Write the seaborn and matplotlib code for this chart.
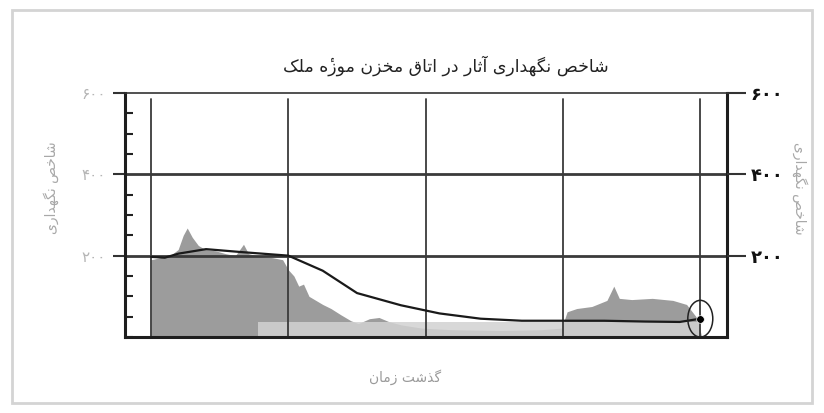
import numpy as np
import pandas as pd
import matplotlib
matplotlib.use("Agg")
import matplotlib.pyplot as plt
from matplotlib.path import Path
from matplotlib.patches import Rectangle
from matplotlib.ticker import MultipleLocator
import seaborn as sns

# --- Persian shaping (no bidi in matplotlib) ---
FORMS = {
    "ا": ("\ufe8d", "\ufe8e", None, None),
    "آ": ("\ufe81", "\ufe82", None, None),
    "ت": ("\ufe95", "\ufe96", "\ufe97", "\ufe98"),
    "ث": ("\ufe99", "\ufe9a", "\ufe9b", "\ufe9c"),
    "خ": ("\ufea5", "\ufea6", "\ufea7", "\ufea8"),
    "د": ("\ufea9", "\ufeaa", None, None),
    "ذ": ("\ufeab", "\ufeac", None, None),
    "ر": ("\ufead", "\ufeae", None, None),
    "ز": ("\ufeaf", "\ufeb0", None, None),
    "ش": ("\ufeb5", "\ufeb6", "\ufeb7", "\ufeb8"),
    "ص": ("\ufeb9", "\ufeba", "\ufebb", "\ufebc"),
    "ق": ("\ufed5", "\ufed6", "\ufed7", "\ufed8"),
    "ل": ("\ufedd", "\ufede", "\ufedf", "\ufee0"),
    "م": ("\ufee1", "\ufee2", "\ufee3", "\ufee4"),
    "ن": ("\ufee5", "\ufee6", "\ufee7", "\ufee8"),
    "ه": ("\ufee9", "\ufeea", "\ufeeb", "\ufeec"),
    "و": ("\ufeed", "\ufeee", None, None),
    "ک": ("\ufb8e", "\ufb8f", "\ufb90", "\ufb91"),
    "گ": ("\ufb92", "\ufb93", "\ufb94", "\ufb95"),
    "ی": ("\ufbfc", "\ufbfd", "\ufbfe", "\ufbff"),
    # heh with yeh above: heh form + combining hamza above
    "ۀ": ("\ufee9\u0654", "\ufeea\u0654", None, None),
}


def fa(text):
    out = []
    for i, ch in enumerate(text):
        if ch not in FORMS:
            out.append(ch)
            continue
        prev = text[i - 1] if i > 0 else ""
        nxt = text[i + 1] if i + 1 < len(text) else ""
        join_prev = prev in FORMS and FORMS[prev][2] is not None
        join_next = FORMS[ch][2] is not None and nxt in FORMS
        iso, fin, ini, med = FORMS[ch]
        if join_prev and join_next:
            out.append(med)
        elif join_prev:
            out.append(fin)
        elif join_next:
            out.append(ini)
        else:
            out.append(iso)
    return "".join(out[::-1])


title = "شاخص نگهداری آثار در اتاق مخزن موزۀ ملک"
ylabel = "شاخص نگهداری"
xlabel = "گذشت زمان"
ytick_vals = [200, 400, 600]
ytick_labels = ["۲۰۰", "۴۰۰", "۶۰۰"]

# gray area (environment record)
area_t = [0.0, 0.066, 0.139, 0.197, 0.234, 0.263, 0.30, 0.344, 0.395, 0.468,
          0.541, 0.614, 0.673, 0.709, 0.797, 0.885, 0.958, 1.0, 1.04, 1.075,
          1.11, 1.15, 1.20, 1.25, 1.31, 1.38, 1.455, 1.51, 1.59, 1.66,
          1.73, 1.82, 1.97, 2.19, 2.55, 2.84, 2.99, 3.03, 3.10, 3.21,
          3.32, 3.37, 3.41, 3.50, 3.65, 3.80, 3.90, 3.98, 4.01]
area_v = [190, 195, 200, 215, 250, 268, 245, 225, 215, 212,
          205, 200, 228, 205, 198, 195, 190, 165, 150, 125,
          130, 100, 90, 80, 70, 55, 40, 33, 45, 48,
          38, 30, 22, 18, 16, 18, 22, 62, 70, 75,
          90, 125, 95, 92, 95, 90, 80, 45, 0]

# light band near the bottom
band_t = [0.78, 4.0]
band_v = [37, 37]

# preservation index curve
line_t = [0.0, 0.1, 0.2, 0.4, 0.65, 1.0, 1.25, 1.5, 1.82, 2.1, 2.4, 2.7,
          3.0, 3.3, 3.6, 3.85, 4.0]
line_v = [197, 195, 205, 216, 209, 200, 163, 108, 78, 58, 45, 40,
          40, 40, 38, 37, 45]

end_t = [4.0]
end_v = [45]

sns.set_style("white")
plt.rcParams["font.family"] = ["DejaVu Sans"]

fig = plt.figure(figsize=(8.24, 4.13), dpi=100)
fig.patches.append(Rectangle((0.014, 0.025), 0.972, 0.95, transform=fig.transFigure,
                             fill=False, edgecolor="#d4d4d4", lw=2))
ax = fig.add_axes([0.1517, 0.184, 0.731, 0.591])

ax.fill_between(area_t, area_v, color="#9c9c9c", lw=0, zorder=1)
ax.fill_between(band_t, band_v, color="#d2d2d2", alpha=0.85, lw=0, zorder=1.5)

df = pd.DataFrame({"t": line_t, "v": line_v})
sns.lineplot(data=df, x="t", y="v", color="#1a1a1a", lw=1.6, ax=ax, zorder=4)

sns.scatterplot(x=end_t, y=end_v, color="black", s=30, ax=ax, zorder=5)
circ = Path.unit_circle()
oval = Path(circ.vertices * [0.68, 1.0], circ.codes)
ax.scatter(end_t, end_v, marker=oval, s=700, facecolors="none",
           edgecolors="#222222", lw=1.1, zorder=5)

ax.set_xlim(-0.19, 4.197)
ax.set_ylim(0, 600)

# grid
ax.set_xticks([0, 1, 2, 3, 4])
ax.set_xticklabels([])
ax.tick_params(axis="x", direction="out", length=10, width=1.3, color="#444444")
for t in [0, 1, 2, 3, 4]:
    ax.axvline(t, ymax=0.975, color="#3a3a3a", lw=1.3, zorder=2)
for v in [200, 400]:
    ax.axhline(v, color="#3a3a3a", lw=2.0, zorder=2)

ax.set_yticks(ytick_vals)
ax.set_yticklabels(ytick_labels, color="#b5b5b5", fontsize=11)
ax.yaxis.set_minor_locator(MultipleLocator(50))
ax.tick_params(axis="y", which="major", direction="out", length=9, width=1.5,
               color="#333333", pad=5)
ax.tick_params(axis="y", which="minor", direction="in", length=6, width=1.5,
               color="#222222", right=True)

for side in ["left", "right", "bottom"]:
    ax.spines[side].set_color("#1e1e1e")
    ax.spines[side].set_linewidth(2.2)
ax.spines["top"].set_color("#333333")
ax.spines["top"].set_linewidth(1.2)

ax2 = ax.twinx()
ax2.set_ylim(0, 600)
ax2.set_yticks(ytick_vals)
ax2.set_yticklabels(ytick_labels, color="#111111", fontsize=13, fontweight="bold")
ax2.tick_params(axis="y", direction="out", length=14, width=1.5, color="#333333", pad=3)
for s in ax2.spines.values():
    s.set_visible(False)

ax.set_xlabel("")
ax.set_ylabel("")
fig.text(0.541, 0.84, fa(title), ha="center", va="center", fontsize=12.5, color="#222222")
fig.text(0.492, 0.087, fa(xlabel), ha="center", va="center", fontsize=10, color="#9a9a9a")
fig.text(0.062, 0.545, fa(ylabel), ha="center", va="center", fontsize=10,
         color="#a8a8a8", rotation=90)
fig.text(0.971, 0.545, fa(ylabel), ha="center", va="center", fontsize=10,
         color="#a8a8a8", rotation=270)

fig.savefig("out.png", dpi=100, facecolor="white")
